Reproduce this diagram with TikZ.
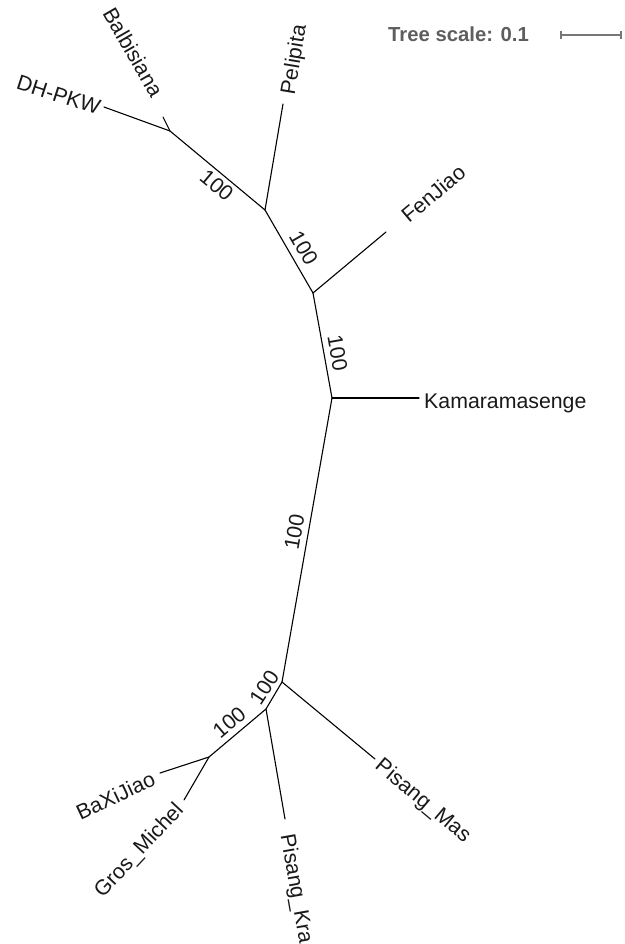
\documentclass[tikz,border=0pt]{standalone}
\usepackage{fontspec}
\setmainfont{Liberation Sans}
\definecolor{scalegray}{HTML}{5E5E5E}
\definecolor{bargray}{HTML}{777777}
\begin{document}
\begin{tikzpicture}[x=1pt,y=-1pt,
  edge/.style={line width=1.1pt, black, line cap=round},
  lab/.style={font=\fontsize{21.3}{24}\selectfont, inner sep=0pt, text height=15.3pt, text depth=0pt, text=black!90},
  boot/.style={lab}]
\useasboundingbox (0,0) rectangle (624,944);
% internal nodes
\coordinate (nDB) at (170,131);
\coordinate (nA) at (265,210);
\coordinate (nB) at (313,293);
\coordinate (nC) at (332,398);
\coordinate (nD) at (282,682);
\coordinate (nE) at (266,709);
\coordinate (nF) at (209,757);
% leaf tips
\coordinate (tDH) at (104,107);
\coordinate (tBal) at (163,117);
\coordinate (tPel) at (283,104);
\coordinate (tFen) at (386,232);
\coordinate (tKam) at (419,398);
\coordinate (tMas) at (375,759);
\coordinate (tKra) at (285,819);
\coordinate (tGros) at (184,800);
\coordinate (tBa) at (160,773);
% edges
\draw[edge] (nDB) -- (tDH);
\draw[edge] (nDB) -- (tBal);
\draw[edge] (nDB) -- (nA);
\draw[edge] (nA) -- (tPel);
\draw[edge] (nA) -- (nB);
\draw[edge] (nB) -- (tFen);
\draw[edge] (nB) -- (nC);
\draw[edge] (nC) -- (tKam);
\draw[edge] (nC) -- (nD);
\draw[edge] (nD) -- (tMas);
\draw[edge] (nD) -- (nE);
\draw[edge] (nE) -- (tKra);
\draw[edge] (nE) -- (nF);
\draw[edge] (nF) -- (tBa);
\draw[edge] (nF) -- (tGros);
% leaf labels
\node[lab, anchor=east, rotate=-18] (lDH) at (100,108) {DH-PKW};
\node[lab, anchor=east, rotate=-60] (lBal) at (158,95) {Balbisiana};
\node[lab, anchor=west, rotate=80.5] (lPel) at (287,94) {Pelipita};
\node[lab, anchor=west, rotate=40] (lFen) at (404,218) {FenJiao};
\node[lab, anchor=west] (lKam) at (424,400.5) {Kamaramasenge};
\node[lab, anchor=west, rotate=-40] (lMas) at (379,762) {Pisang\_Mas};
\node[lab, anchor=west, rotate=-80] (lKra) at (288,834) {Pisang\_Kra};
\node[lab, anchor=east, rotate=47] (lGros) at (179,805.5) {Gros\_Michel};
\node[lab, anchor=east, rotate=25] (lBa) at (153.7,777.5) {BaXiJiao};
% bootstrap labels
\node[boot, rotate=-40] (s1) at (217,185) {100};
\node[boot, rotate=-60] (s2) at (304,248) {100};
\node[boot, rotate=-80] (s3) at (338,353) {100};
\node[boot, rotate=80] (s4) at (294,532) {100};
\node[boot, rotate=57] (s5) at (264,687) {100};
\node[boot, rotate=40] (s6) at (229,722) {100};
% scale bar
\node[font=\bfseries\fontsize{20.3}{24}\selectfont, text=scalegray, anchor=base west, inner sep=0pt] (ts) at (388,41.7) {Tree scale: 0.1};
\coordinate (sb1) at (561,35);
\coordinate (sb2) at (621,35);
\draw[bargray, line width=1.2pt] (sb1) -- (sb2);
\draw[bargray, line width=1.2pt] (sb1) ++(0,-4) -- ++(0,8);
\draw[bargray, line width=1.2pt] (sb2) ++(0,-4) -- ++(0,8);
\end{tikzpicture}
\end{document}
